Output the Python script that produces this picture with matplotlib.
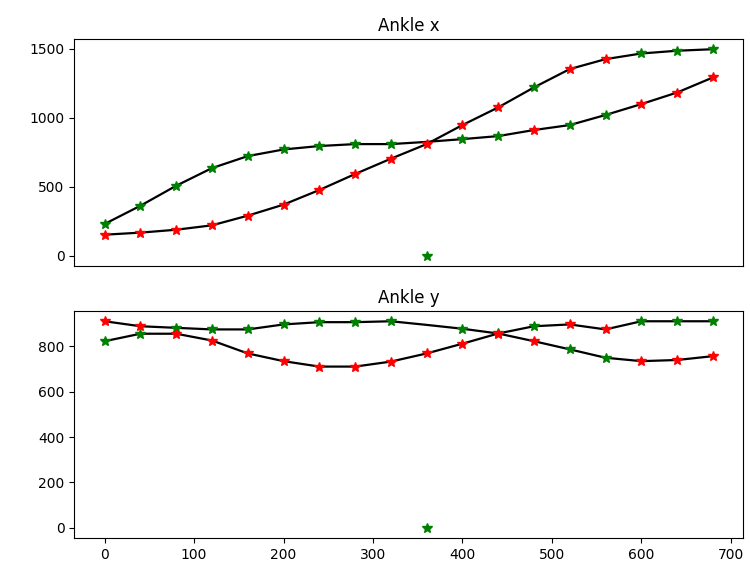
import numpy as np
import matplotlib
matplotlib.use("Agg")
from matplotlib import pyplot as plt

frames = np.arange(0, 681, 40)

# detections per frame (red / green), green at 360 is a missed detection
red_x = [152, 167, 188, 220, 290, 370, 476, 592, 703, 809, 947, 1075, 911, 1353, 1425, 1099, 1183, 1292]
green_x = [230, 362, 507, 635, 722, 770, 795, 809, 809, 0, 845, 867, 1220, 947, 1020, 1466, 1486, 1497]
red_y = [911, 889, 856, 826, 769, 735, 711, 711, 733, 769, 812, 856, 823, 897, 875, 735, 740, 757]
green_y = [823, 856, 882, 875, 875, 897, 907, 907, 911, 0, 878, 858, 889, 787, 750, 911, 911, 911]

# tracked trajectories
track_a_x = [152, 167, 188, 220, 290, 370, 476, 592, 703, 809, 947, 1075, 1220, 1353, 1425, 1466, 1486, 1497]
track_b_x = [230, 362, 507, 635, 722, 770, 795, 809, 809, 825, 845, 867, 911, 947, 1020, 1099, 1183, 1292]
track_a_y = [911, 889, 882, 875, 875, 897, 907, 907, 911, 895, 878, 857, 823, 787, 750, 735, 740, 757]
track_b_y = [823, 856, 856, 826, 769, 735, 711, 711, 733, 769, 812, 857, 889, 897, 875, 911, 911, 911]

fig = plt.figure(figsize=(7.5, 5.72), dpi=100)
ax1 = fig.add_axes([0.099, 0.535, 0.892, 0.397])
ax2 = fig.add_axes([0.099, 0.0594, 0.892, 0.397], sharex=ax1)

for ax, red, green, ta, tb, title in [
    (ax1, red_x, green_x, track_a_x, track_b_x, "Ankle x"),
    (ax2, red_y, green_y, track_a_y, track_b_y, "Ankle y"),
]:
    ax.plot(frames, ta, color="black", linewidth=1.6)
    ax.plot(frames, tb, color="black", linewidth=1.6)
    ax.plot(frames, green, "*", color="green", linestyle="none", markersize=7)
    ax.plot(frames, red, "*", color="red", linestyle="none", markersize=7)
    ax.set_title(title)

ax1.tick_params(axis="x", which="both", bottom=False, labelbottom=False)
ax1.set_yticks([0, 500, 1000, 1500])
ax2.set_yticks([0, 200, 400, 600, 800])

fig.savefig("out.png", dpi=100)
